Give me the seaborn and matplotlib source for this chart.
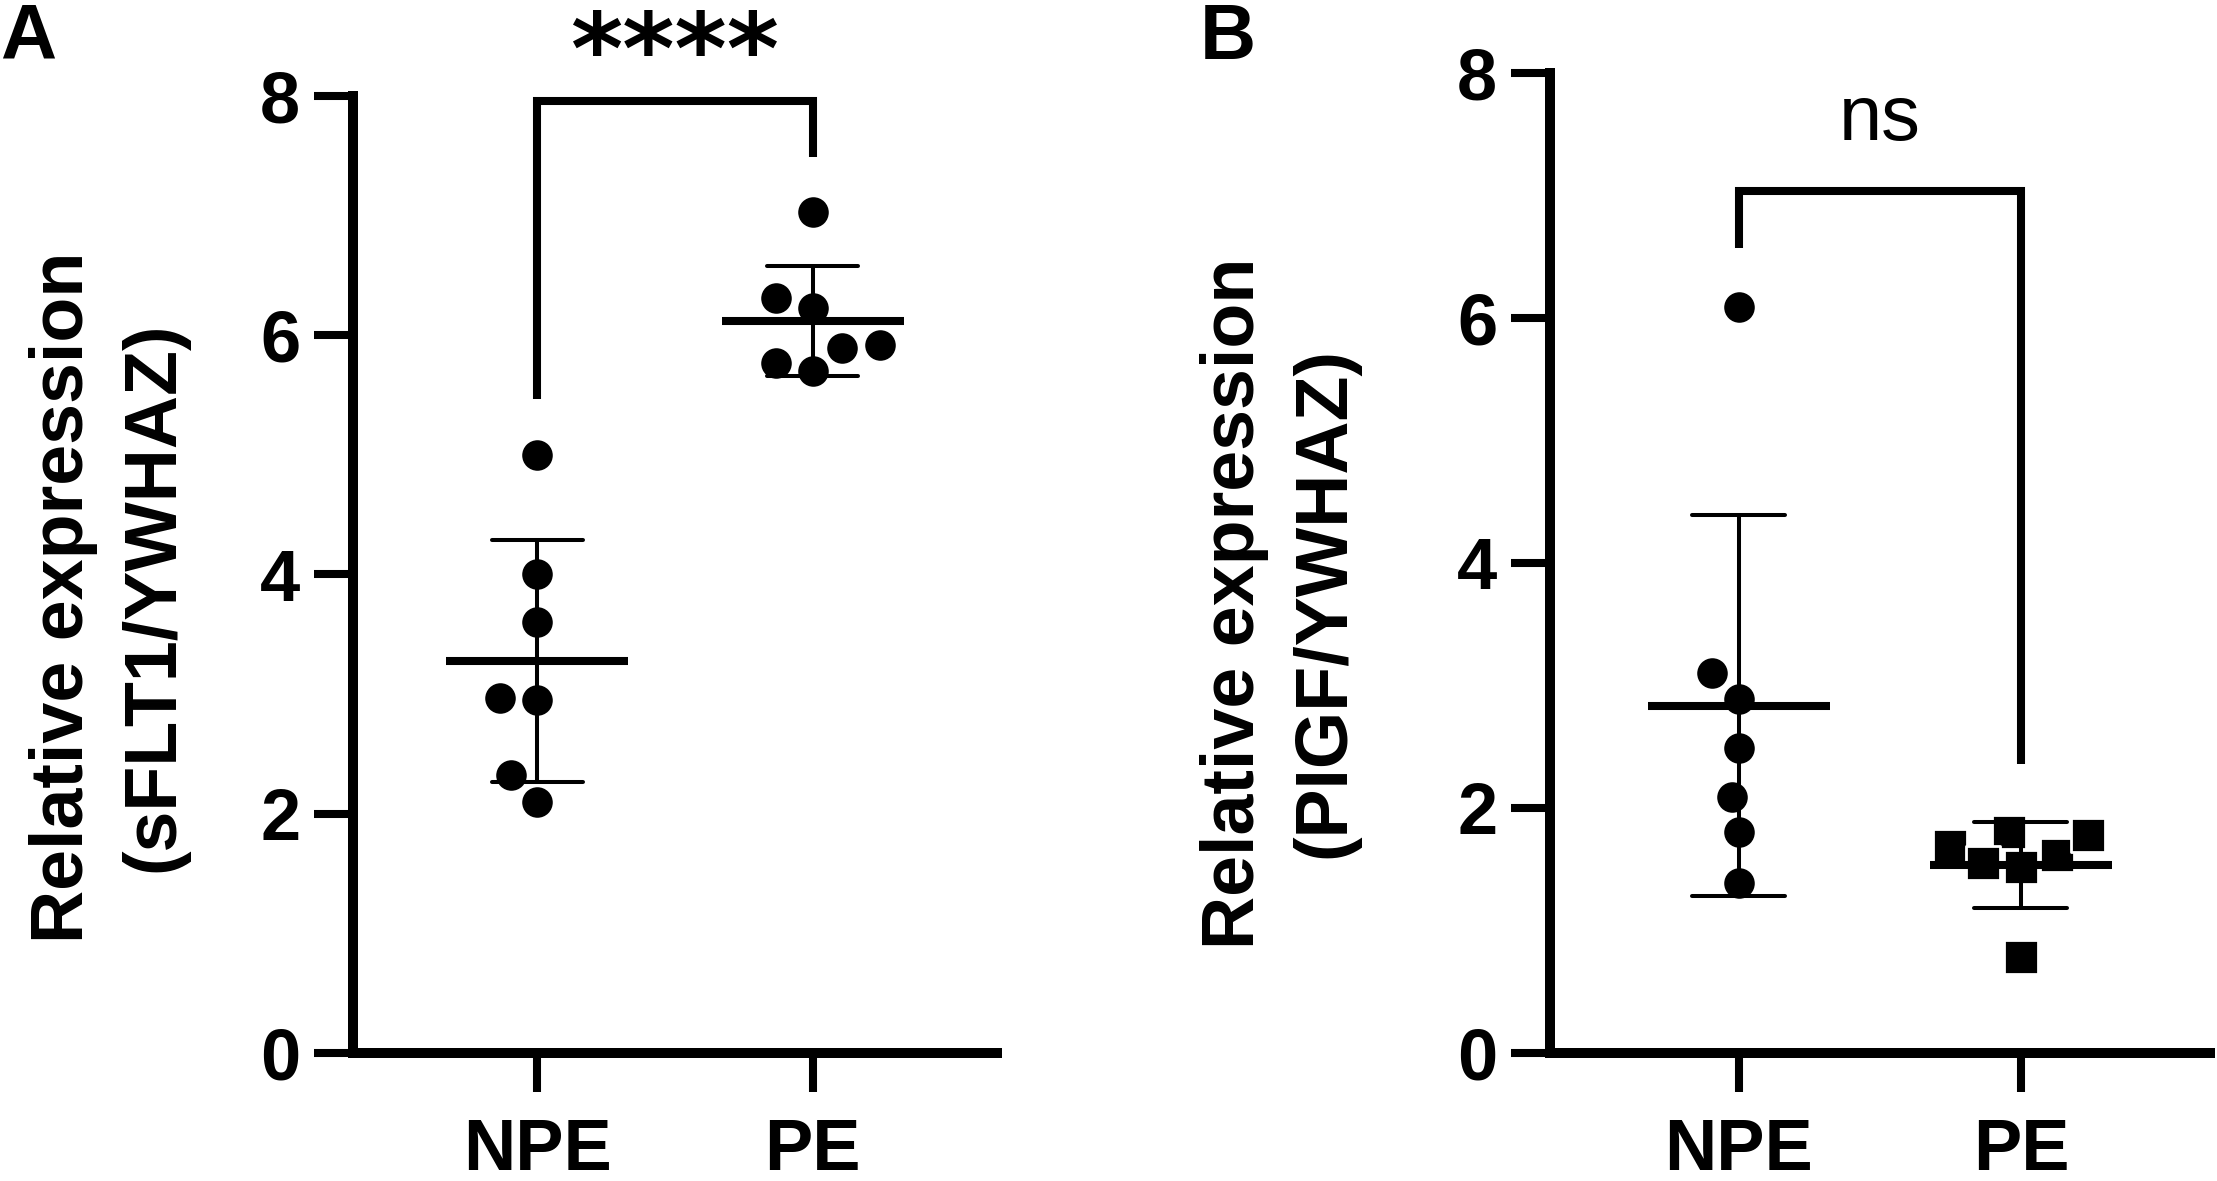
import seaborn as sns
import matplotlib.pyplot as plt
import pandas as pd

# Data
groups = ['NPE', 'PE']
sflt1_npe = [5.0, 4.0, 3.6, 2.95, 2.97, 2.32, 2.10]
sflt1_pe = [7.03, 6.31, 6.23, 5.92, 5.89, 5.77, 5.70]
pigf_npe = [6.09, 3.10, 2.89, 2.49, 2.09, 1.80, 1.39]
pigf_pe = [1.69, 1.80, 1.55, 1.62, 1.78, 1.52, 0.78]
y_ticks = [0, 2, 4, 6, 8]

# significance brackets: bar height, left leg end, right leg end
bracket_a = [7.96, 5.47, 7.49]
bracket_b = [7.04, 6.57, 2.36]
sig_labels = ['****', 'ns']

sns.set_style('ticks', {'axes.edgecolor': 'black', 'xtick.color': 'black',
                        'ytick.color': 'black', 'text.color': 'black',
                        'axes.labelcolor': 'black'})
plt.rcParams['font.family'] = ['Liberation Sans', 'DejaVu Sans']

fig = plt.figure(figsize=(22.17, 11.81), dpi=100)
ax_a = fig.add_axes([0.1592, 0.1084, 0.2905, 0.8103])
ax_b = fig.add_axes([0.6991, 0.1084, 0.2977, 0.8298])


def draw_panel(ax, npe, pe, markers, bracket):
    df = pd.DataFrame({'group': ['NPE'] * len(npe) + ['PE'] * len(pe),
                       'value': npe + pe})
    for g, m in zip(groups, markers):
        sns.swarmplot(data=df[df['group'] == g], x='group', y='value', order=groups,
                      color='black', marker=m, size=24, linewidth=2,
                      edgecolor='white', ax=ax, zorder=2)
    # mean +/- SD
    sns.pointplot(data=df, x='group', y='value', order=groups, errorbar='sd',
                  capsize=0.33, color='black', marker='_', markersize=131,
                  markeredgewidth=5.8, linestyle='none', zorder=4,
                  err_kws={'linewidth': 2.9, 'zorder': 4}, ax=ax)

    ax.plot([0, 0, 1, 1], [bracket[1], bracket[0], bracket[0], bracket[2]],
            color='black', lw=5.8, clip_on=False,
            solid_capstyle='butt', solid_joinstyle='miter')

    ax.set_xlim(-0.67, 1.67)
    ax.set_ylim(0, 8)
    ax.set_yticks(y_ticks)
    ax.set_xlabel('')
    ax.set_ylabel('')
    sns.despine(ax=ax)
    for s in ['left', 'bottom']:
        ax.spines[s].set_linewidth(7.2)
    ax.tick_params(axis='both', direction='out', length=28, width=5.8,
                   labelsize=52)
    ax.tick_params(axis='y', pad=10)
    ax.tick_params(axis='x', pad=18)
    for lab in ax.get_xticklabels() + ax.get_yticklabels():
        lab.set_fontweight('bold')


draw_panel(ax_a, sflt1_npe, sflt1_pe, ['o', 'o'], bracket_a)
draw_panel(ax_b, pigf_npe, pigf_pe, ['o', 's'], bracket_b)

ax_a.text(0.5, 8.1, sig_labels[0], ha='center', va='baseline', fontsize=72,
          fontweight='bold', family='DejaVu Sans', clip_on=False)
ax_b.text(0.5, 7.45, sig_labels[1], ha='center', va='baseline', fontsize=56,
          clip_on=False)

fig.text(109 / 2217, 1 - 597 / 1181, 'Relative expression\n(sFLT1/YWHAZ)',
         rotation=90, ha='center', va='center', fontsize=53, fontweight='bold',
         linespacing=1.4, multialignment='center')
fig.text(1280 / 2217, 1 - 603 / 1181, 'Relative expression\n(PIGF/YWHAZ)',
         rotation=90, ha='center', va='center', fontsize=53, fontweight='bold',
         linespacing=1.4, multialignment='center')

fig.text(0.0, 1 - 2 / 1181, 'A', ha='left', va='top', fontsize=56, fontweight='bold')
fig.text(1200 / 2217, 1 - 2 / 1181, 'B', ha='left', va='top', fontsize=56,
         fontweight='bold')

fig.savefig('out.png', dpi=100)
